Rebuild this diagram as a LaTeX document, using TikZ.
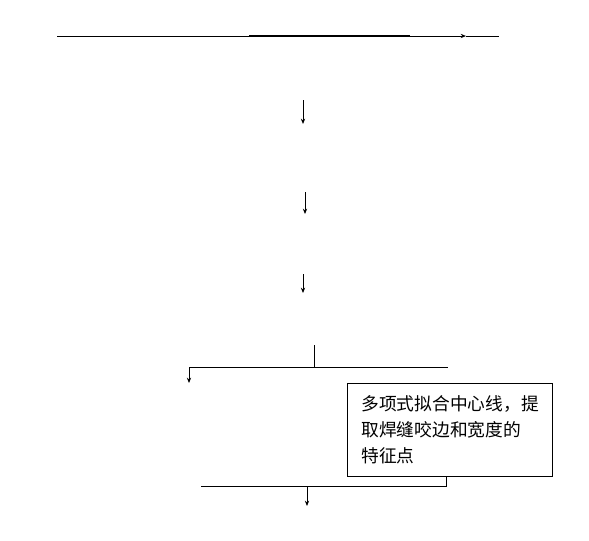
\documentclass[tikz,border=0pt]{standalone}
\usepackage{fontspec}
\newfontfamily\cjk{Noto Sans CJK SC}
\usetikzlibrary{arrows.meta}
\begin{document}
\begin{tikzpicture}[x=0.75pt,y=-0.75pt,line width=0.7pt,
	arr/.style={-{Stealth[length=4pt,width=3.2pt]}},
	box/.style={draw,line width=0.9pt,anchor=north west,minimum width=153.75pt,minimum height=69.75pt,align=left,inner xsep=9pt,font=\cjk\fontsize{13.3pt}{19.5pt}\selectfont}]
		\useasboundingbox (0,0) rectangle (589,540);
		% top line
		\coordinate (top-l) at (57,36); \coordinate (top-tip) at (466,36); \coordinate (top-r) at (499,36);
		\coordinate (bold-l) at (249,36); \coordinate (bold-r) at (410,36);
		\draw[arr] (top-l)--(top-tip);
		\draw (top-tip)--(top-r);
		\draw[line width=1.6pt] (bold-l)--(bold-r);
		% down arrows
		\coordinate (a1) at (303,100); \coordinate (b1) at (303,124);
		\coordinate (a2) at (305,192); \coordinate (b2) at (305,214);
		\coordinate (a3) at (303,274); \coordinate (b3) at (303,293);
		\draw[arr] (a1)--(b1);
		\draw[arr] (a2)--(b2);
		\draw[arr] (a3)--(b3);
		% branch
		\coordinate (br-t) at (314,345); \coordinate (br-m) at (314,367);
		\coordinate (br-l) at (189,367); \coordinate (br-r) at (448,367); \coordinate (br-d) at (189,383);
		\draw (br-t)--(br-m);
		\draw (br-l)--(br-r);
		\draw[arr] (br-l)--(br-d);
		\node[box] (fit) at (347,383) {多项式拟合中心线，提\\取焊缝咬边和宽度的\\特征点};
		% merge
		\coordinate (mg-l) at (201,486); \coordinate (mg-a) at (307,486); \coordinate (mg-d) at (307,506);
		\draw ([xshift=-2.5pt]fit.south) |- (mg-l);
		\draw[arr] (mg-a)--(mg-d);
\end{tikzpicture}
\end{document}
